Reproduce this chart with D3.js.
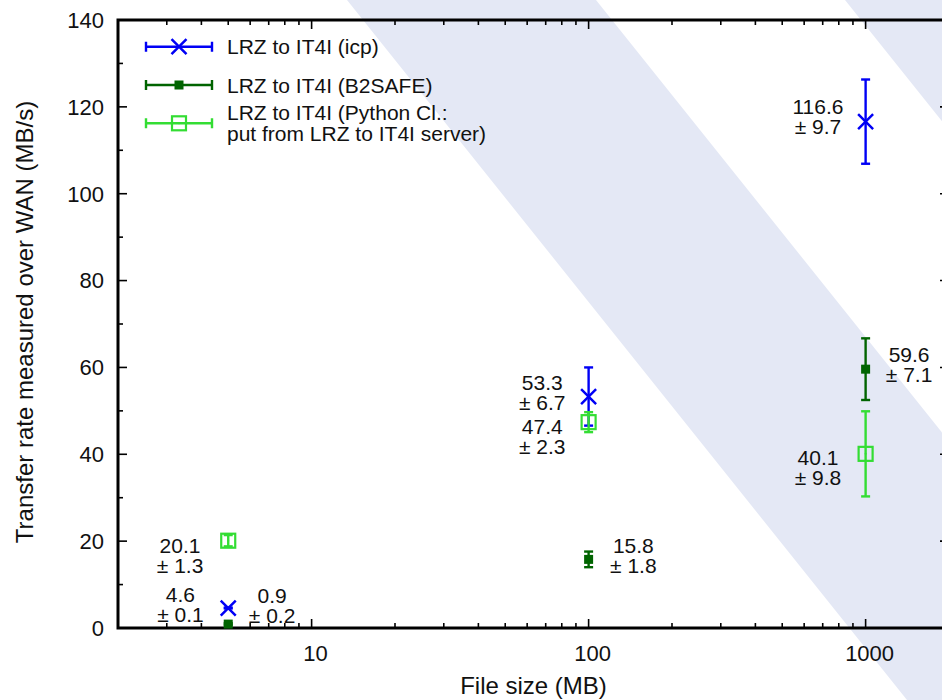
<!DOCTYPE html>
<html lang="en">
<head>
<meta charset="utf-8">
<title>Transfer rate LRZ to IT4I</title>
<script src="https://d3js.org/d3.v7.min.js"></script>
<style>
  body { margin: 0; background: #fff; }
  svg text { font-family: "Liberation Sans", Arial, Helvetica, sans-serif; fill: #111; font-size: 21px; }
  svg text.tick { font-size: 22px; }
  svg text.title { font-size: 24px; }
</style>
</head>
<body>
<div id="graph"></div>
<script>

// file sizes (MB)
var sizes = [5, 100, 1000];

// transfer rates (MB/s) with their errors
var icpRate = [4.6, 53.3, 116.6];
var icpErr = [0.1, 6.7, 9.7];
var b2safeRate = [0.9, 15.8, 59.6];
var b2safeErr = [0.2, 1.8, 7.1];
var pythonRate = [20.1, 47.4, 40.1];
var pythonErr = [1.3, 2.3, 9.8];

// anchors of the value labels, in data units (size, rate)
var icpNote = [[3.36, 5.5], [68, 54.2], [673, 117.7]];
var b2safeNote = [[7.2, 5.1], [145, 16.6], [1435, 60.6]];
var pythonNote = [[3.35, 16.7], [68, 44.0], [673, 37.0]];

// axis ticks
var yTicks = [0, 20, 40, 60, 80, 100, 120, 140];
var xLabels = [10, 100, 1000];

var series = [
  {name: ["LRZ to IT4I (icp)"], rate: icpRate, err: icpErr, note: icpNote, color: "#0000f5", mark: "cross"},
  {name: ["LRZ to IT4I (B2SAFE)"], rate: b2safeRate, err: b2safeErr, note: b2safeNote, color: "#006400", mark: "box"},
  {name: ["LRZ to IT4I (Python Cl.:", "put from LRZ to IT4I server)"], rate: pythonRate, err: pythonErr, note: pythonNote, color: "#33dd33", mark: "open"}
];

var W = 942, H = 700;
var margin = {top: 20, right: -7, bottom: 72, left: 118};

var svg = d3.select("#graph").append("svg")
  .attr("width", W).attr("height", H);

// diagonal background bands (x where each band meets the top edge)
var bands = [[347, 596], [845, 1094]];
var slope = 0.8;
svg.append("g").selectAll("polygon")
  .data(bands).enter().append("polygon")
  .attr("points", function(b) {
    return [[b[0], 0], [b[1], 0], [b[1] + slope * H, H], [b[0] + slope * H, H]].join(" ");
  })
  .attr("fill", "#e4e8f5");

var x = d3.scaleLog().domain([2, 2000]).range([margin.left, W - margin.right]);
var y = d3.scaleLinear().domain([0, 140]).range([H - margin.bottom, margin.top]);

var x0 = x.range()[0], x1 = x.range()[1], y0 = y.range()[0], y1 = y.range()[1];

// ticks on all four sides, pointing in
var ticks = svg.append("g").attr("stroke", "#000").attr("stroke-width", 1.6);
x.ticks().forEach(function(t) {
  var major = Math.abs(Math.log10(t) - Math.round(Math.log10(t))) < 1e-9;
  var len = major ? 9 : 5;
  ticks.append("line").attr("x1", x(t)).attr("x2", x(t)).attr("y1", y0).attr("y2", y0 - len);
  ticks.append("line").attr("x1", x(t)).attr("x2", x(t)).attr("y1", y1).attr("y2", y1 + len);
});
y.ticks(14).forEach(function(t) {
  var len = (t % 20 === 0) ? 9 : 5;
  ticks.append("line").attr("y1", y(t)).attr("y2", y(t)).attr("x1", x0).attr("x2", x0 + len);
  ticks.append("line").attr("y1", y(t)).attr("y2", y(t)).attr("x1", x1).attr("x2", x1 - len);
});

svg.append("rect")
  .attr("x", x0).attr("y", y1).attr("width", x1 - x0).attr("height", y0 - y1)
  .attr("fill", "none").attr("stroke", "#000").attr("stroke-width", 3);

// tick labels
svg.append("g").selectAll("text").data(yTicks).enter().append("text")
  .attr("class", "tick")
  .attr("x", x0 - 14).attr("y", function(d) { return y(d) + 7.8; })
  .attr("text-anchor", "end").text(function(d) { return d; });

svg.append("g").selectAll("text").data(xLabels).enter().append("text")
  .attr("class", "tick")
  .attr("x", function(d) { return x(d) + 4; }).attr("y", y0 + 33)
  .attr("text-anchor", "middle").text(function(d) { return d; });

// axis titles
svg.append("text").attr("class", "title")
  .attr("x", (x0 + x1) / 2).attr("y", 694)
  .attr("text-anchor", "middle").text("File size (MB)");
svg.append("text").attr("class", "title")
  .attr("transform", "translate(33," + ((y0 + y1) / 2 - 2) + ") rotate(-90)")
  .attr("text-anchor", "middle").text("Transfer rate measured over WAN (MB/s)");

function drawMark(g, kind, cx, cy, color) {
  if (kind === "cross") {
    var h = 7.5;
    g.append("path")
      .attr("d", "M" + (cx - h) + "," + (cy - h) + "L" + (cx + h) + "," + (cy + h) +
                 "M" + (cx - h) + "," + (cy + h) + "L" + (cx + h) + "," + (cy - h))
      .attr("stroke", color).attr("stroke-width", 2.5).attr("fill", "none");
  } else if (kind === "box") {
    g.append("rect").attr("x", cx - 4.5).attr("y", cy - 4.5).attr("width", 9).attr("height", 9)
      .attr("fill", color);
  } else {
    g.append("rect").attr("x", cx - 7).attr("y", cy - 7).attr("width", 14).attr("height", 14)
      .attr("fill", "none").attr("stroke", color).attr("stroke-width", 2.2);
    g.append("circle").attr("cx", cx).attr("cy", cy).attr("r", 1).attr("fill", color);
  }
}

// data: error bars + markers
series.forEach(function(s) {
  var g = svg.append("g");
  sizes.forEach(function(size, i) {
    var cx = x(size), top = y(s.rate[i] + s.err[i]), bot = y(s.rate[i] - s.err[i]);
    g.append("line").attr("x1", cx).attr("x2", cx).attr("y1", top).attr("y2", bot)
      .attr("stroke", s.color).attr("stroke-width", 2.4);
    [top, bot].forEach(function(cy) {
      g.append("line").attr("x1", cx - 4.5).attr("x2", cx + 4.5).attr("y1", cy).attr("y2", cy)
        .attr("stroke", s.color).attr("stroke-width", 2.4);
    });
    drawMark(g, s.mark, cx, y(s.rate[i]), s.color);
  });
});

// value labels
series.forEach(function(s) {
  s.note.forEach(function(n, i) {
    var t = svg.append("text").attr("text-anchor", "middle");
    var nx = x(n[0]), ny = y(n[1]);
    t.append("tspan").attr("x", nx).attr("y", ny - 2.5).text(s.rate[i].toFixed(1));
    t.append("tspan").attr("x", nx).attr("y", ny + 17.5).text("\u00b1 " + s.err[i].toFixed(1));
  });
});

// legend
var legendRows = [46.7, 85, 123.3];
var legend = svg.append("g");
series.forEach(function(s, i) {
  var ly = legendRows[i];
  legend.append("path")
    .attr("d", "M146," + ly + "H212M146," + (ly - 5) + "V" + (ly + 5) + "M212," + (ly - 5) + "V" + (ly + 5))
    .attr("stroke", s.color).attr("stroke-width", 2.4).attr("fill", "none");
  drawMark(legend, s.mark, 179, ly, s.color);
  var t = legend.append("text");
  var first = ly + 7.5 - (s.name.length - 1) * 10.5;
  s.name.forEach(function(line, k) {
    t.append("tspan").attr("x", 227).attr("y", first + k * 21).text(line);
  });
});

</script>
</body>
</html>
